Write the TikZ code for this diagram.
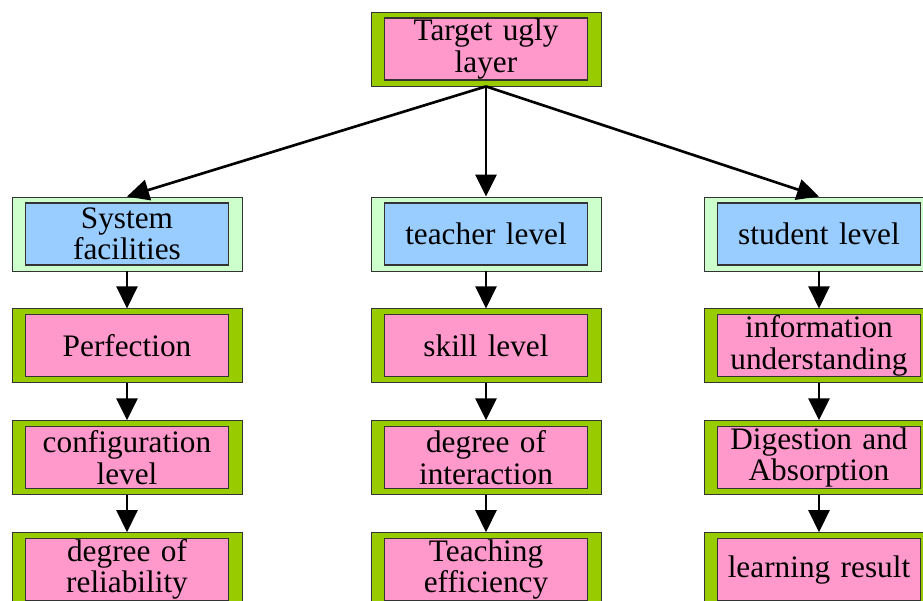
\documentclass[tikz,border=0pt]{standalone}
\usepackage{fontspec}
\setmainfont{Liberation Serif}
\usetikzlibrary{arrows.meta,positioning}
\definecolor{olivebox}{HTML}{99CC00}
\definecolor{pinkbox}{HTML}{FF99CC}
\definecolor{mintbox}{HTML}{CCFFCC}
\definecolor{bluebox}{HTML}{99CCFF}
\tikzset{
outerstyle/.style={
  rectangle,
  draw=black!80,
  line width=0.5pt,
  minimum width=4.6cm,
  minimum height=1.48cm,
  inner sep=0pt,
  fill=olivebox,
  }
}
\tikzset{
innerstyle/.style={
  rectangle,
  draw=black!80,
  line width=0.6pt,
  minimum width=4.06cm,
  minimum height=1.24cm,
  inner sep=0pt,
  text width=3.95cm,
  align=center,
  fill=pinkbox,
  font=\rmfamily\fontsize{17.8}{17.8}\selectfont,
  }
}
\tikzset{
bigline/.style={
  line width=1.5pt,
  -{Triangle[length=0.44cm,width=0.42cm]}
  }
}

\begin{document}
\begin{tikzpicture}[node distance=0.74cm]
    \useasboundingbox (0,0) rectangle (18.46,-12.02);
    % top
    \node[outerstyle] (goal) at (9.72,-0.98) {};
    \node[innerstyle] (goalin) at (goal.center) {Target ugly\\layer};
    % second row
    \node[outerstyle, fill=mintbox] (sys) at (2.54,-4.68) {};
    \node[innerstyle, fill=bluebox] (sysin) at (sys.center) {System\\facilities};
    \node[outerstyle, fill=mintbox] (tea) at (9.72,-4.68) {};
    \node[innerstyle, fill=bluebox] (teain) at (tea.center) {teacher level};
    \node[outerstyle, fill=mintbox] (stu) at (16.38,-4.68) {};
    \node[innerstyle, fill=bluebox] (stuin) at (stu.center) {student level};
    % left column
    \node[outerstyle, below=of sys] (perf) {};
    \node[innerstyle] (perfin) at (perf.center) {Perfection};
    \node[outerstyle, below=of perf] (conf) {};
    \node[innerstyle] (confin) at (conf.center) {configuration\\level};
    \node[outerstyle, below=of conf] (reli) {};
    \node[innerstyle] (reliin) at (reli.center) {degree of\\reliability};
    % middle column
    \node[outerstyle, below=of tea] (skill) {};
    \node[innerstyle] (skillin) at (skill.center) {skill level};
    \node[outerstyle, below=of skill] (inter) {};
    \node[innerstyle] (interin) at (inter.center) {degree of\\interaction};
    \node[outerstyle, below=of inter] (effi) {};
    \node[innerstyle] (effiin) at (effi.center) {Teaching\\efficiency};
    % right column
    \node[outerstyle, below=of stu] (info) {};
    \node[innerstyle] (infoin) at (info.center) {information\\understanding};
    \node[outerstyle, below=of info] (dige) {};
    \node[innerstyle] (digein) at (dige.center) {Digestion and\\Absorption};
    \node[outerstyle, below=of dige] (lear) {};
    \node[innerstyle] (learin) at (lear.center) {learning result};

    \draw[bigline] (goal.south) -- (sys.north);
    \draw[bigline] (goal.south) -- (tea.north);
    \draw[bigline] (goal.south) -- (stu.north);
    \draw[bigline] (sys) -- (perf);
    \draw[bigline] (perf) -- (conf);
    \draw[bigline] (conf) -- (reli);
    \draw[bigline] (tea) -- (skill);
    \draw[bigline] (skill) -- (inter);
    \draw[bigline] (inter) -- (effi);
    \draw[bigline] (stu) -- (info);
    \draw[bigline] (info) -- (dige);
    \draw[bigline] (dige) -- (lear);
\end{tikzpicture}
\end{document}
